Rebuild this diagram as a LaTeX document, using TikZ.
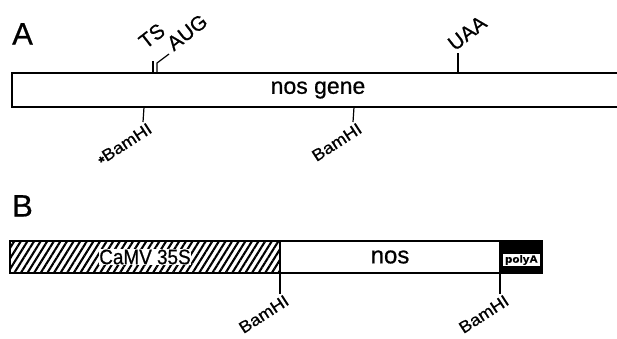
\documentclass[tikz,border=0pt]{standalone}
\usepackage{fontspec}
\setmainfont{Liberation Sans}[FakeBold=0.6, AutoFakeBold=0.6]
\newfontfamily\heavy{Liberation Sans}[FakeBold=0.7]
\newfontfamily\heavier{Liberation Sans Bold}[FakeBold=0.5]
\usetikzlibrary{patterns.meta}
\begin{document}
\begin{tikzpicture}[x=1pt,y=-1pt,
  toplbl/.style={font=\heavy\fontsize{20.5}{20.5}\selectfont, inner sep=0pt, rotate=38, anchor=south west},
  botlbl/.style={font=\heavy\fontsize{16.5}{16.5}\selectfont, inner sep=0pt, rotate=33, anchor=north east},
  panel/.style={font=\fontsize{31}{31}\selectfont, inner sep=0pt, anchor=north west},
  tickline/.style={line width=1.2pt},
  bar/.style={line width=1.7pt},
  hatch/.style={pattern={Lines[angle=58,distance=5.6pt,line width=2.1pt]}}]
\useasboundingbox (0,0) rectangle (617,338);

% panel letters
\node[panel] (labA) at (12,23) {A};
\node[panel] (labB) at (12,195) {B};

% ---------- A ----------
\draw[bar] (625,73) -| (12,107) -- (625,107);
\node[font=\heavy\fontsize{23}{23}\selectfont, inner sep=0pt] (nosgene) at (318,90) {nos gene};

\coordinate (ts0) at (153,73);  \coordinate (ts1) at (153,61);
\coordinate (aug0) at (157,73); \coordinate (aug1) at (157,63); \coordinate (aug2) at (169,54);
\coordinate (uaa0) at (458,73); \coordinate (uaa1) at (458,53);
\coordinate (b1a) at (144,107); \coordinate (b1b) at (143,122);
\coordinate (b2a) at (354,107); \coordinate (b2b) at (353,122);

\draw[tickline] (ts0) -- (ts1);
\draw[tickline] (aug0) -- (aug1) -- (aug2);
\draw[tickline] (uaa0) -- (uaa1);
\draw[tickline] (b1a) -- (b1b);
\draw[tickline] (b2a) -- (b2b);

\node[toplbl] (TS) at (146,50) {TS};
\node[toplbl] (AUG) at (174,52) {AUG};
\node[toplbl] (UAA) at (455,52) {UAA};
\node[botlbl] (bam1) at (147,122) {{\fontsize{15}{15}\selectfont\bfseries\raisebox{-2.5pt}{*}}\scalebox{1.1}[1]{BamHI}};
\node[botlbl] (bam2) at (357,122) {\scalebox{1.1}[1]{BamHI}};

% ---------- B ----------
\draw[bar, hatch] (10,241) rectangle (280,273);
\node[fill=white, inner sep=0.8pt, font=\heavy\fontsize{21}{21}\selectfont] (camv) at (145,257) {\scalebox{0.9}[1]{CaMV 35S}};
\draw[bar] (280,241) rectangle (500,273);
\node[font=\heavy\fontsize{24}{24}\selectfont, inner sep=0pt] (nos) at (390,257) {nos};
\fill (499,240.2) rectangle (543,273.8);
\fill[white] (503,254) rectangle (540,266);
\node[font=\heavier\fontsize{10.5}{10.5}\selectfont, inner sep=0pt] (polyA) at (521.5,260) {\scalebox{1.12}[1]{polyA}};

\coordinate (b3a) at (280,273); \coordinate (b3b) at (280,294);
\coordinate (b4a) at (500,273); \coordinate (b4b) at (500,294);
\draw[tickline] (b3a) -- (b3b);
\draw[tickline] (b4a) -- (b4b);
\node[botlbl] (bam3) at (284,294) {\scalebox{1.1}[1]{BamHI}};
\node[botlbl] (bam4) at (504,294) {\scalebox{1.1}[1]{BamHI}};
\end{tikzpicture}
\end{document}
